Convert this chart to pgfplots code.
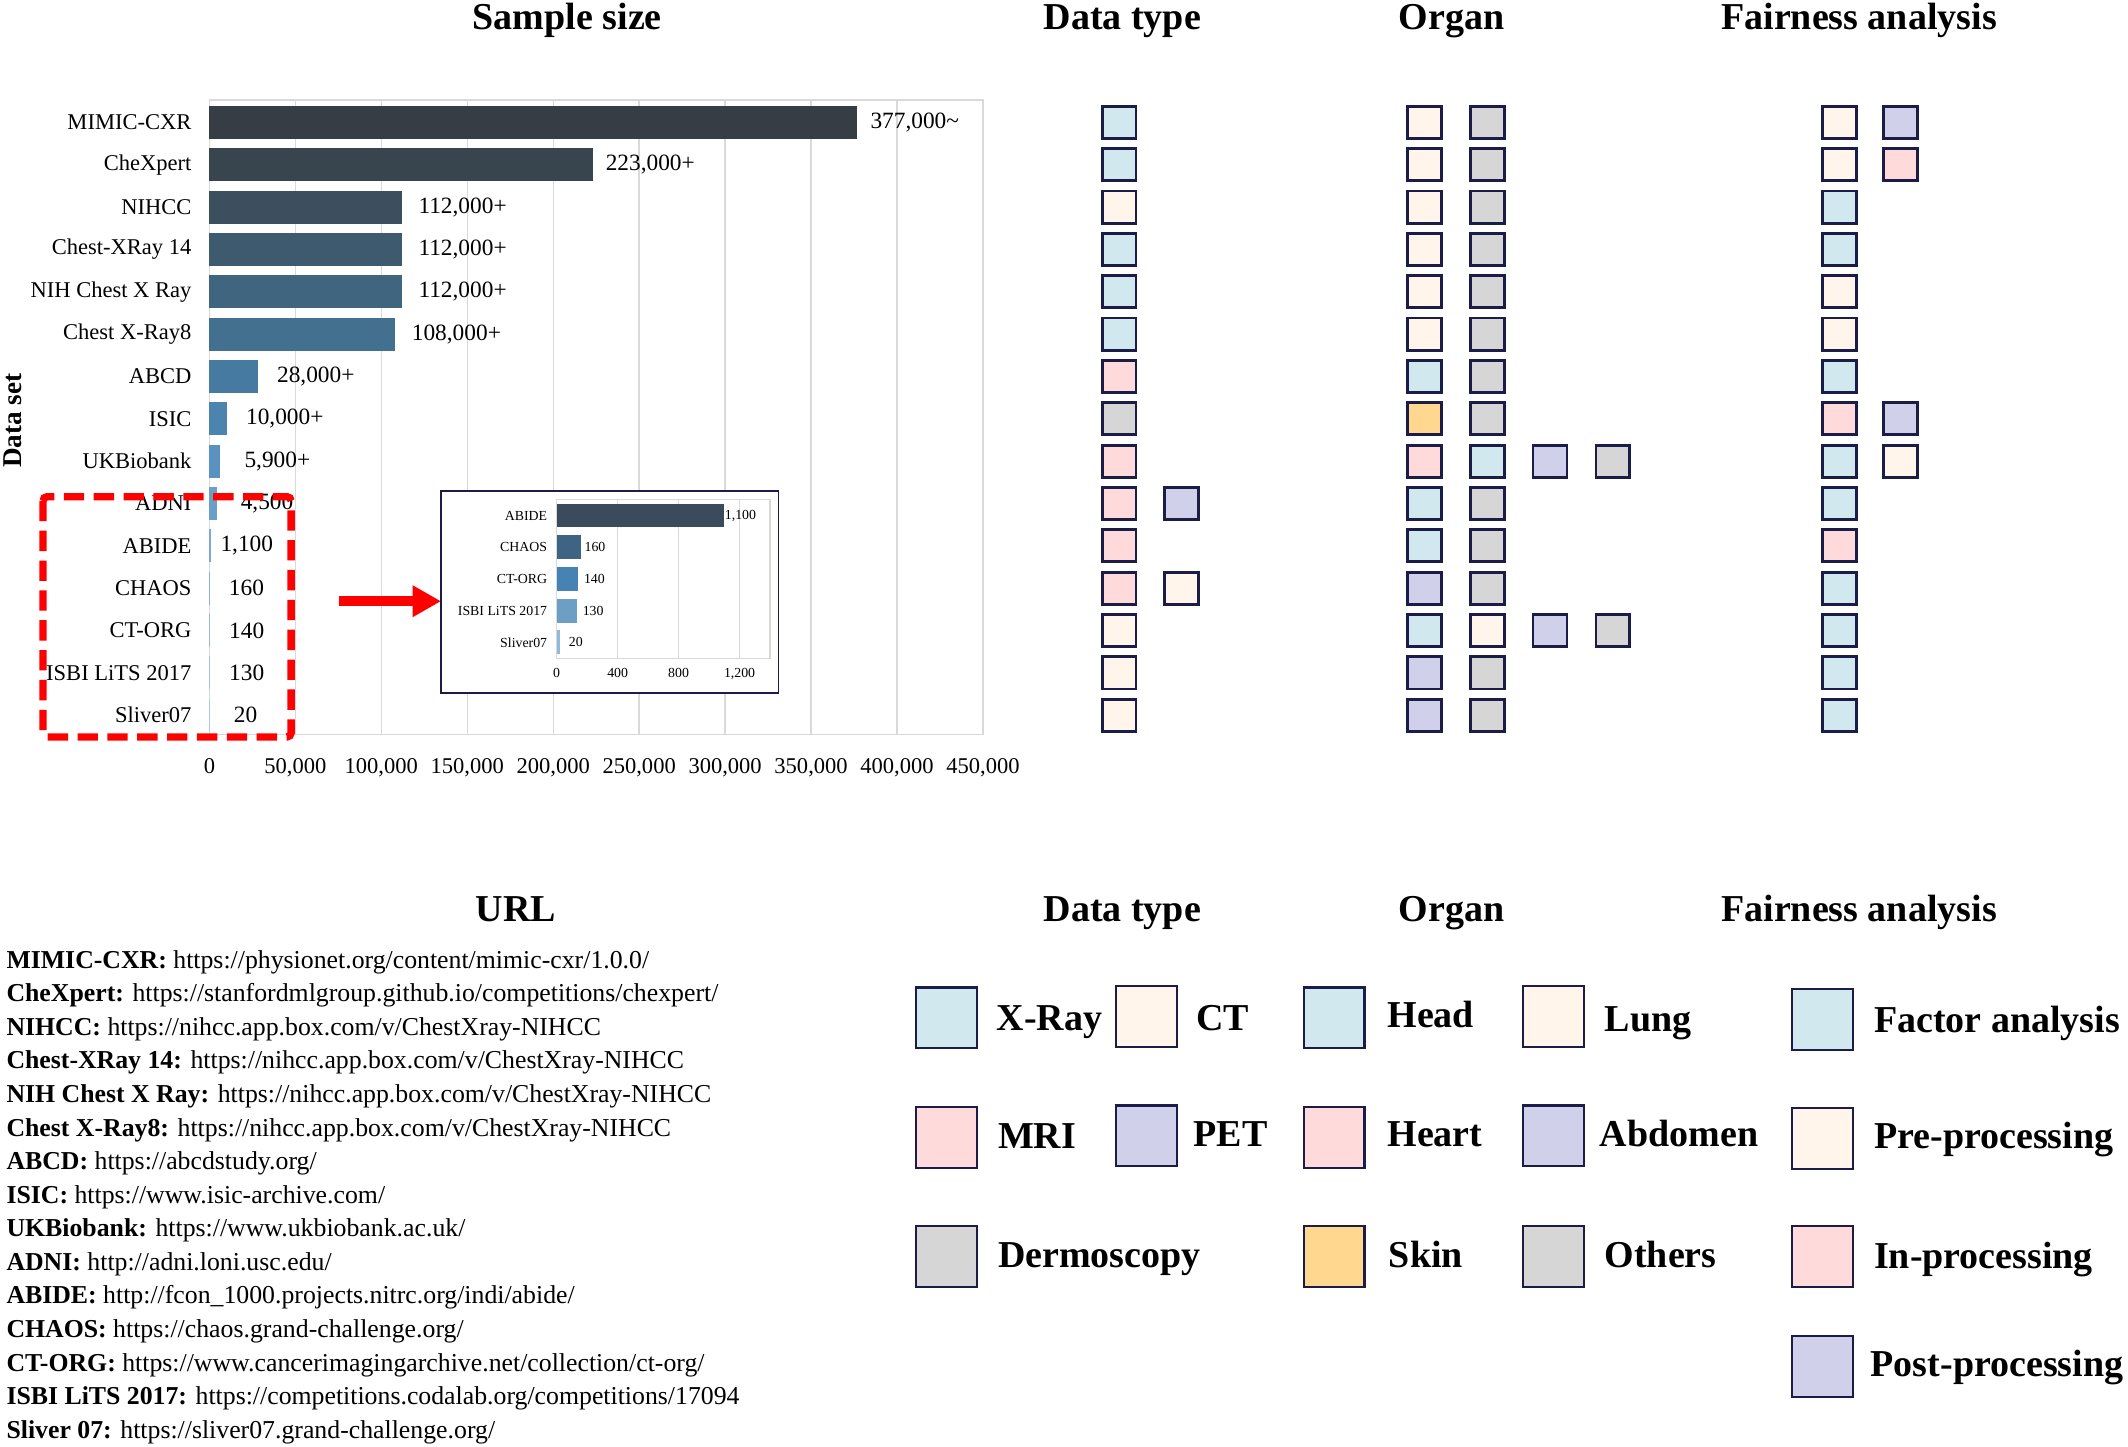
\documentclass[border=0pt]{standalone}
\usepackage{fontspec}
\setmainfont{Liberation Serif}
\usepackage{pgfplots}
\pgfplotsset{compat=1.18}
\usetikzlibrary{arrows.meta}

\definecolor{cnavy}{HTML}{1C1C48}
\definecolor{cblue}{HTML}{D1E8EF}
\definecolor{ccream}{HTML}{FFF5EA}
\definecolor{cpink}{HTML}{FFDADB}
\definecolor{clav}{HTML}{D0D0EB}
\definecolor{cgrey}{HTML}{D6D6D6}
\definecolor{cskin}{HTML}{FFD78F}
\definecolor{gridgrey}{HTML}{D9D9D9}
\definecolor{b1}{HTML}{363D45}
\definecolor{b2}{HTML}{38444E}
\definecolor{b3}{HTML}{3B4F5E}
\definecolor{b4}{HTML}{3D5A6E}
\definecolor{b5}{HTML}{40657F}
\definecolor{b6}{HTML}{43708F}
\definecolor{b7}{HTML}{467AA0}
\definecolor{b8}{HTML}{4A84AF}
\definecolor{b9}{HTML}{5A92BF}
\definecolor{b10}{HTML}{6A9FC9}
\definecolor{b11}{HTML}{7AAAD1}
\definecolor{b12}{HTML}{87B3D7}
\definecolor{b13}{HTML}{93BBDC}
\definecolor{b14}{HTML}{9FC4E1}
\definecolor{b15}{HTML}{ABCCE6}
\definecolor{i1}{HTML}{3A4C5B}
\definecolor{i2}{HTML}{3F6483}
\definecolor{i3}{HTML}{4682B2}
\definecolor{i4}{HTML}{6D9EC3}
\definecolor{i5}{HTML}{8FBADC}

\newcommand{\titlefont}{\fontsize{14}{16}\selectfont\bfseries}
\newcommand{\legfont}{\fontsize{14}{16}\selectfont\bfseries}
\newcommand{\urlfont}{\fontsize{9.5}{12}\selectfont}

\pgfplotsset{
  hb/.style={fill=#1, draw=none, bar shift=0pt, bar width=0.78},
  ib/.style={fill=#1, draw=none, bar shift=0pt, bar width=0.75},
  gap/.style={every node near coord/.append style={xshift=#1}},
  cell/.style={only marks, mark=square*, mark size=6.25pt,
    mark options={draw=cnavy, line width=1pt, yscale=0.944, fill=#1}},
  key/.style={only marks, mark=square*, mark size=11.2pt,
    mark options={draw=cnavy, line width=0.8pt, fill=#1}},
  grid cells/.style={scale only axis, height=233.65pt,
    ymin=-0.53, ymax=14.45, y dir=reverse, hide axis, clip=false},
}

\begin{document}
\begin{tikzpicture}[x=0.5pt,y=-0.5pt]
\useasboundingbox (0,0) rectangle (1568,1066);
\coordinate (mainNW) at (154.3,73.7);
\coordinate (insetNW) at (410.2,368);
\coordinate (dtNW) at (801.6,73.7);
\coordinate (orNW) at (1026.35,73.7);
\coordinate (faNW) at (1333,73.7);
\coordinate (canvasNW) at (0,0);

% sample size bars
\begin{axis}[
  at={(mainNW)}, anchor=north west,
  scale only axis, width=285pt, height=233.65pt,
  xbar,
  xmin=0, xmax=450000, ymin=-0.53, ymax=14.45, y dir=reverse,
  xtick={0,50000,100000,150000,200000,250000,300000,350000,400000,450000},
  ytick={0,...,14},
  yticklabels={MIMIC-CXR,CheXpert,NIHCC,Chest-XRay 14,NIH Chest X Ray,Chest X-Ray8,ABCD,ISIC,UKBiobank,ADNI,ABIDE,CHAOS,CT-ORG,ISBI LiTS 2017,Sliver07},
  xmajorgrids,
  grid style={draw=gridgrey, line width=0.5pt},
  axis line style={draw=gridgrey, line width=0.5pt},
  major tick length=0pt, tick style={draw=none},
  scaled x ticks=false,
  /pgf/number format/fixed,
  /pgf/number format/1000 sep={,},
  /pgf/number format/assume math mode=true,
  xticklabel style={font=\fontsize{8.3}{10}\selectfont, yshift=-5.4pt},
  yticklabel style={font=\fontsize{8.3}{10}\selectfont, xshift=-3.1pt},
  every node near coord/.append style={font=\fontsize{8.6}{10}\selectfont, anchor=west, inner xsep=0pt},
  clip=false,
]
\addplot[hb=b1, nodes near coords={377,000\textasciitilde}, gap=4.6pt] coordinates {(377000,0)};
\addplot[hb=b2, nodes near coords={223,000+}, gap=4.6pt] coordinates {(223000,1)};
\addplot[hb=b3, nodes near coords={112,000+}, gap=5.9pt] coordinates {(112000,2)};
\addplot[hb=b4, nodes near coords={112,000+}, gap=5.9pt] coordinates {(112000,3)};
\addplot[hb=b5, nodes near coords={112,000+}, gap=5.9pt] coordinates {(112000,4)};
\addplot[hb=b6, nodes near coords={108,000+}, gap=6pt] coordinates {(108000,5)};
\addplot[hb=b7, nodes near coords={28,000+}, gap=7pt] coordinates {(28000,6)};
\addplot[hb=b8, nodes near coords={10,000+}, gap=7pt] coordinates {(10000,7)};
\addplot[hb=b9, nodes near coords={5,900+}, gap=9pt] coordinates {(5900,8)};
\addplot[hb=b10, nodes near coords={4,500}, gap=8.5pt] coordinates {(4500,9)};
\addplot[hb=b11, nodes near coords={1,100}, gap=3.2pt] coordinates {(1100,10)};
\addplot[hb=b12, nodes near coords={160}, gap=6.9pt] coordinates {(160,11)};
\addplot[hb=b13, nodes near coords={140}, gap=7pt] coordinates {(140,12)};
\addplot[hb=b14, nodes near coords={130}, gap=7pt] coordinates {(130,13)};
\addplot[hb=b15, nodes near coords={20}, gap=8.8pt] coordinates {(20,14)};
\end{axis}

\draw[red, line width=2.7pt, dash pattern=on 7.5pt off 3.5pt, rounded corners=1.5pt]
  (31.7,366) rectangle (214.5,543);
\draw[red, line width=3.5pt, -{Triangle[length=10.5pt,width=11pt]}] (250,443) -- (325,443);

% zoomed inset
\draw[cnavy, line width=0.7pt, fill=white] (325,361.8) rectangle (573.6,510.4);
\begin{axis}[
  at={(insetNW)}, anchor=north west,
  scale only axis, width=78.6pt, height=58.5pt,
  xbar,
  xmin=0, xmax=1400, ymin=-0.51, ymax=4.5, y dir=reverse,
  xtick={0,400,800,1200},
  ytick={0,...,4},
  yticklabels={ABIDE,CHAOS,CT-ORG,ISBI LiTS 2017,Sliver07},
  xmajorgrids,
  grid style={draw=gridgrey, line width=0.5pt},
  axis line style={draw=gridgrey, line width=0.5pt},
  major tick length=0pt, tick style={draw=none},
  scaled x ticks=false,
  /pgf/number format/fixed,
  /pgf/number format/1000 sep={,},
  /pgf/number format/assume math mode=true,
  xticklabel style={font=\fontsize{5.1}{6}\selectfont},
  yticklabel style={font=\fontsize{5.1}{6}\selectfont},
  every node near coord/.append style={font=\fontsize{5.1}{6}\selectfont, anchor=west, inner xsep=0pt},
  clip=false,
]
\addplot[ib=i1, nodes near coords={1,100}, gap=0pt] coordinates {(1100,0)};
\addplot[ib=i2, nodes near coords={160}, gap=1.1pt] coordinates {(160,1)};
\addplot[ib=i3, nodes near coords={140}, gap=2pt] coordinates {(140,2)};
\addplot[ib=i4, nodes near coords={130}, gap=2.1pt] coordinates {(130,3)};
\addplot[ib=i5, nodes near coords={20}, gap=3.2pt] coordinates {(20,4)};
\end{axis}

% data type
\begin{axis}[grid cells, at={(dtNW)}, anchor=north west, width=46pt, xmin=-0.5, xmax=1.5]
\addplot[cell=cblue] coordinates {(0,0) (0,1) (0,3) (0,4) (0,5)};
\addplot[cell=ccream] coordinates {(0,2) (0,12) (0,13) (0,14) (1,11)};
\addplot[cell=cpink] coordinates {(0,6) (0,8) (0,9) (0,10) (0,11)};
\addplot[cell=clav] coordinates {(1,9)};
\addplot[cell=cgrey] coordinates {(0,7)};
\end{axis}

% organ
\begin{axis}[grid cells, at={(orNW)}, anchor=north west, width=92.6pt, xmin=-0.5, xmax=3.5]
\addplot[cell=cblue] coordinates {(0,6) (1,8) (0,9) (0,10) (0,12)};
\addplot[cell=ccream] coordinates {(0,0) (0,1) (0,2) (0,3) (0,4) (0,5) (1,12)};
\addplot[cell=cpink] coordinates {(0,8)};
\addplot[cell=clav] coordinates {(2,8) (0,11) (2,12) (0,13) (0,14)};
\addplot[cell=cskin] coordinates {(0,7)};
\addplot[cell=cgrey] coordinates {(1,0) (1,1) (1,2) (1,3) (1,4) (1,5) (1,6) (1,7) (3,8) (1,9) (1,10) (1,11) (3,12) (1,13) (1,14)};
\end{axis}

% fairness analysis
\begin{axis}[grid cells, at={(faNW)}, anchor=north west, width=45pt, xmin=-0.5, xmax=1.5]
\addplot[cell=cblue] coordinates {(0,2) (0,3) (0,6) (0,8) (0,9) (0,11) (0,12) (0,13) (0,14)};
\addplot[cell=ccream] coordinates {(0,0) (0,1) (0,4) (0,5) (1,8)};
\addplot[cell=cpink] coordinates {(1,1) (0,7) (0,10)};
\addplot[cell=clav] coordinates {(1,0) (1,7)};
\end{axis}

% legend swatches
\begin{axis}[at={(canvasNW)}, anchor=north west, scale only axis, width=784pt, height=533pt,
  xmin=0, xmax=1568, ymin=0, ymax=1066, y dir=reverse, hide axis, clip=false]
\addplot[key=cblue] coordinates {(697.5,750) (983,750) (1343,751)};
\addplot[key=ccream] coordinates {(845,749) (1144.5,749) (1343,839)};
\addplot[key=cpink] coordinates {(697.5,838) (983,838) (1343,926)};
\addplot[key=clav] coordinates {(845,837) (1144.5,837) (1343,1007)};
\addplot[key=cgrey] coordinates {(697.5,926) (1144.5,926)};
\addplot[key=cskin] coordinates {(983,926)};
\end{axis}

% titles
\node[font=\titlefont, anchor=base] at (418,22) {Sample size};
\node[font=\titlefont, anchor=base] at (827,22) {Data type};
\node[font=\titlefont, anchor=base] at (1069.6,22) {Organ};
\node[font=\titlefont, anchor=base] at (1369.8,22) {Fairness analysis};
\node[font=\titlefont, anchor=base] at (380,679) {URL};
\node[font=\titlefont, anchor=base] at (827,679) {Data type};
\node[font=\titlefont, anchor=base] at (1069.6,679) {Organ};
\node[font=\titlefont, anchor=base] at (1369.8,679) {Fairness analysis};
\node[font=\fontsize{10}{12}\selectfont\bfseries, rotate=90, anchor=base] at (15.5,310) {Data set};

% legend labels
\begin{scope}[every node/.style={font=\legfont, anchor=base west, inner sep=0pt}]
\node at (734,759) {X-Ray};
\node at (881,759) {CT};
\node at (735,846) {MRI};
\node at (879,845) {PET};
\node at (735,934) {Dermoscopy};
\node at (1022,757) {Head};
\node at (1182,760) {Lung};
\node at (1022,845) {Heart};
\node at (1178.5,845) {Abdomen};
\node at (1023,934) {Skin};
\node at (1182,934) {Others};
\node at (1380.5,761) {Factor analysis};
\node at (1380.5,846) {Pre-processing};
\node at (1380.5,935) {In-processing};
\node at (1378,1014.5) {Post-processing};
\end{scope}

% URL list
\begin{scope}[every node/.style={font=\urlfont, anchor=base west, inner sep=0pt}]
\node at (4.4,713.4) {\textbf{MIMIC-CXR:} https://physionet.org/content/mimic-cxr/1.0.0/};
\node at (4.4,738.1) {\textbf{CheXpert:} https://stanfordmlgroup.github.io/competitions/chexpert/};
\node at (4.4,762.9) {\textbf{NIHCC:} https://nihcc.app.box.com/v/ChestXray-NIHCC};
\node at (4.4,787.6) {\textbf{Chest-XRay 14:} https://nihcc.app.box.com/v/ChestXray-NIHCC};
\node at (4.4,812.4) {\textbf{NIH Chest X Ray:} https://nihcc.app.box.com/v/ChestXray-NIHCC};
\node at (4.4,837.1) {\textbf{Chest X-Ray8:} https://nihcc.app.box.com/v/ChestXray-NIHCC};
\node at (4.4,861.8) {\textbf{ABCD:} https://abcdstudy.org/};
\node at (4.4,886.6) {\textbf{ISIC:} https://www.isic-archive.com/};
\node at (4.4,911.3) {\textbf{UKBiobank:} https://www.ukbiobank.ac.uk/};
\node at (4.4,936.1) {\textbf{ADNI:} http://adni.loni.usc.edu/};
\node at (4.4,960.8) {\textbf{ABIDE:} http://fcon\_1000.projects.nitrc.org/indi/abide/};
\node at (4.4,985.5) {\textbf{CHAOS:} https://chaos.grand-challenge.org/};
\node at (4.4,1010.3) {\textbf{CT-ORG:} https://www.cancerimagingarchive.net/collection/ct-org/};
\node at (4.4,1035.0) {\textbf{ISBI LiTS 2017:} https://competitions.codalab.org/competitions/17094};
\node at (4.4,1059.8) {\textbf{Sliver 07:} https://sliver07.grand-challenge.org/};
\end{scope}
\end{tikzpicture}
\end{document}
